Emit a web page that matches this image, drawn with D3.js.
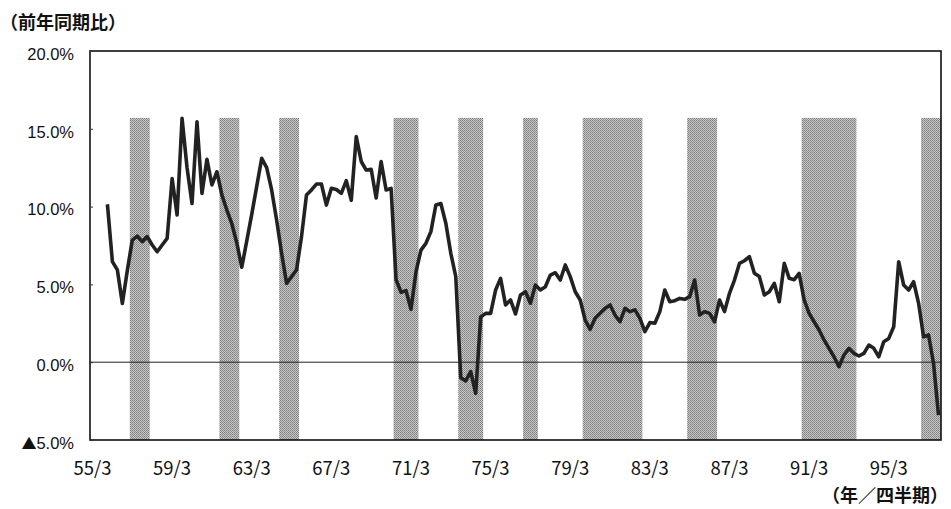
<!DOCTYPE html>
<html>
<head>
<meta charset="utf-8">
<script src="https://cdn.jsdelivr.net/npm/d3@7"></script>
<style>
  html, body { margin: 0; padding: 0; background: #fff; }
  svg { display: block; }
</style>
</head>
<body>
<svg id="chart" width="951" height="509"></svg>
<script>
// Quarterly real GDP growth, year-on-year (%), with recession periods shaded.

// Category axis: quarters labelled "yy/m" (m = 3, 6, 9, 12), 55/3 .. 97/9
const firstYear = 55;
const quarterMonths = ["3", "6", "9", "12"];
const quarterCount = 171;

// Labels shown on the category axis
const tickLabels = ["55/3", "59/3", "63/3", "67/3", "71/3", "75/3", "79/3", "83/3", "87/3", "91/3", "95/3"];

// Value axis ticks
const yTicks = [20, 15, 10, 5, 0, -5];

// Growth series, first value at 55/12
const seriesStart = "55/12";
const growth = [
  10.15, 6.46, 5.93, 3.78, 5.9, 7.85, 8.1, 7.75, 8.07, 7.53,
  7.1, 7.53, 7.96, 11.8, 9.46, 15.67, 12.5, 10.2, 15.45, 10.85,
  13.04, 11.39, 12.24, 10.75, 9.78, 8.9, 7.66, 6.1, 7.8, 9.5,
  11.3, 13.1, 12.5, 11.07, 9.14, 7.0, 5.07, 5.5, 5.93, 8.07,
  10.75, 11.07, 11.45, 11.45, 10.1, 11.18, 11.1, 10.85, 11.67, 10.4,
  14.5, 12.9, 12.35, 12.4, 10.55, 12.9, 11.07, 11.17, 5.3, 4.5,
  4.6, 3.4, 5.8, 7.2, 7.64, 8.39, 10.1, 10.2, 8.93, 7.0,
  5.5, -1.0, -1.2, -0.6, -2.0, 2.9, 3.14, 3.14, 4.64, 5.39,
  3.68, 4.0, 3.1, 4.32, 4.53, 3.79, 4.96, 4.64, 4.85, 5.6,
  5.75, 5.28, 6.25, 5.5, 4.53, 4.0, 2.71, 2.11, 2.82, 3.14,
  3.46, 3.68, 3.03, 2.6, 3.46, 3.25, 3.36, 2.82, 1.96, 2.55,
  2.5, 3.25, 4.64, 3.89, 3.95, 4.1, 4.04, 4.21, 5.28, 3.03,
  3.25, 3.14, 2.6, 4.0, 3.25, 4.43, 5.28, 6.35, 6.52, 6.78,
  5.71, 5.5, 4.32, 4.53, 5.07, 3.89, 6.35, 5.39, 5.3, 5.71,
  4.0, 3.14, 2.6, 2.07, 1.43, 0.89, 0.35, -0.29, 0.46, 0.89,
  0.57, 0.4, 0.57, 1.1, 0.89, 0.35, 1.32, 1.53, 2.28, 6.46,
  4.96, 4.64, 5.17, 3.79, 1.64, 1.75, -0.07, -3.4
];

// Recession periods (first and last quarter of each)
const recessionStart = ["57/3", "61/9", "64/9", "70/6", "73/9", "76/12", "79/12", "85/3", "90/12", "96/12"];
const recessionEnd   = ["57/12", "62/6", "65/6", "71/6", "74/9", "77/6", "82/9", "86/6", "93/6", "97/9"];
const recessionTop = 15.7;

const categories = [];
for (let i = 0; i < quarterCount; i++) {
  categories.push(String(firstYear + Math.floor(i / 4)) + "/" + quarterMonths[i % 4]);
}
const startIdx = categories.indexOf(seriesStart);
const points = growth.map((v, i) => ({ c: categories[startIdx + i], v }));

const svg = d3.select("#chart");
const plotLeft = 90, plotRight = 941, plotTop = 51, plotBottom = 440;

const x = d3.scaleBand().domain(categories).range([plotLeft, plotRight]).paddingInner(0).paddingOuter(0);
const y = d3.scaleLinear().domain([-5, 20]).range([plotBottom, plotTop]);
const bw = x.bandwidth();

// stippled grey fill for the recession columns
const defs = svg.append("defs");
const pat = defs.append("pattern")
  .attr("id", "stipple").attr("patternUnits", "userSpaceOnUse")
  .attr("width", 2).attr("height", 2);
pat.append("rect").attr("width", 2).attr("height", 2).attr("fill", "#c9c9c9");
pat.append("rect").attr("x", 0).attr("y", 0).attr("width", 1).attr("height", 1).attr("fill", "#7c7c7c");
pat.append("rect").attr("x", 1).attr("y", 1).attr("width", 1).attr("height", 1).attr("fill", "#8e8e8e");

// recession columns
svg.append("g").selectAll("rect")
  .data(recessionStart.map((s, i) => ({ s, e: recessionEnd[i] })))
  .join("rect")
  .attr("x", d => x(d.s))
  .attr("width", d => x(d.e) + bw - x(d.s))
  .attr("y", y(recessionTop))
  .attr("height", y(-5) - y(recessionTop))
  .attr("fill", "url(#stipple)");

// zero line
svg.append("line")
  .attr("x1", plotLeft).attr("x2", plotRight)
  .attr("y1", y(0)).attr("y2", y(0))
  .attr("stroke", "#222").attr("stroke-width", 1);

// plot frame
svg.append("rect")
  .attr("x", plotLeft).attr("y", plotTop)
  .attr("width", plotRight - plotLeft).attr("height", plotBottom - plotTop)
  .attr("fill", "none").attr("stroke", "#111").attr("stroke-width", 1.6);

// value axis; negative values are written with a ▲ in place of the minus sign
const fmt = d3.format(".1f");
const yAxis = d3.axisLeft(y).tickValues(yTicks).tickSize(-3).tickPadding(16)
  .tickFormat(d => fmt(Math.abs(d)) + "%");
const ya = svg.append("g").attr("transform", `translate(${plotLeft},0)`).call(yAxis);
ya.select(".domain").remove();
ya.selectAll(".tick line").attr("stroke", "#333");
ya.selectAll(".tick text")
  .attr("font-family", "'Liberation Sans', Arial, sans-serif")
  .attr("font-size", 16.5)
  .attr("fill", "#111")
  .attr("dy", "0.5em");
ya.selectAll(".tick text").filter(d => d < 0).each(function (d) {
  const t = d3.select(this);
  t.text(null);
  t.append("tspan")
    .attr("font-family", "'Noto Sans CJK JP', sans-serif")
    .attr("font-size", 15)
    .text("▲");
  t.append("tspan").text(fmt(Math.abs(d)) + "%");
});

// category axis labels
const xAxis = d3.axisBottom(x).tickValues(tickLabels).tickSize(0).tickPadding(22);
const xa = svg.append("g").attr("transform", `translate(0,${plotBottom})`).call(xAxis);
xa.select(".domain").remove();
xa.selectAll(".tick text")
  .attr("font-family", "'Noto Sans CJK JP', sans-serif")
  .attr("font-size", 18.5)
  .attr("fill", "#111");

// growth line
const line = d3.line().x(d => x(d.c) + bw / 2).y(d => y(d.v));
svg.append("path")
  .datum(points)
  .attr("d", line)
  .attr("fill", "none")
  .attr("stroke", "#222")
  .attr("stroke-width", 3.6)
  .attr("stroke-linejoin", "round");

// unit captions
svg.append("text")
  .attr("x", 0).attr("y", 29)
  .attr("font-family", "'Noto Sans CJK JP', sans-serif")
  .attr("font-size", 18).attr("font-weight", 700)
  .attr("fill", "#111")
  .text("（前年同期比）");

svg.append("text")
  .attr("x", 948).attr("y", 502)
  .attr("text-anchor", "end")
  .attr("font-family", "'Noto Sans CJK JP', sans-serif")
  .attr("font-size", 18).attr("font-weight", 700)
  .attr("fill", "#111")
  .text("（年／四半期）");
</script>
</body>
</html>
